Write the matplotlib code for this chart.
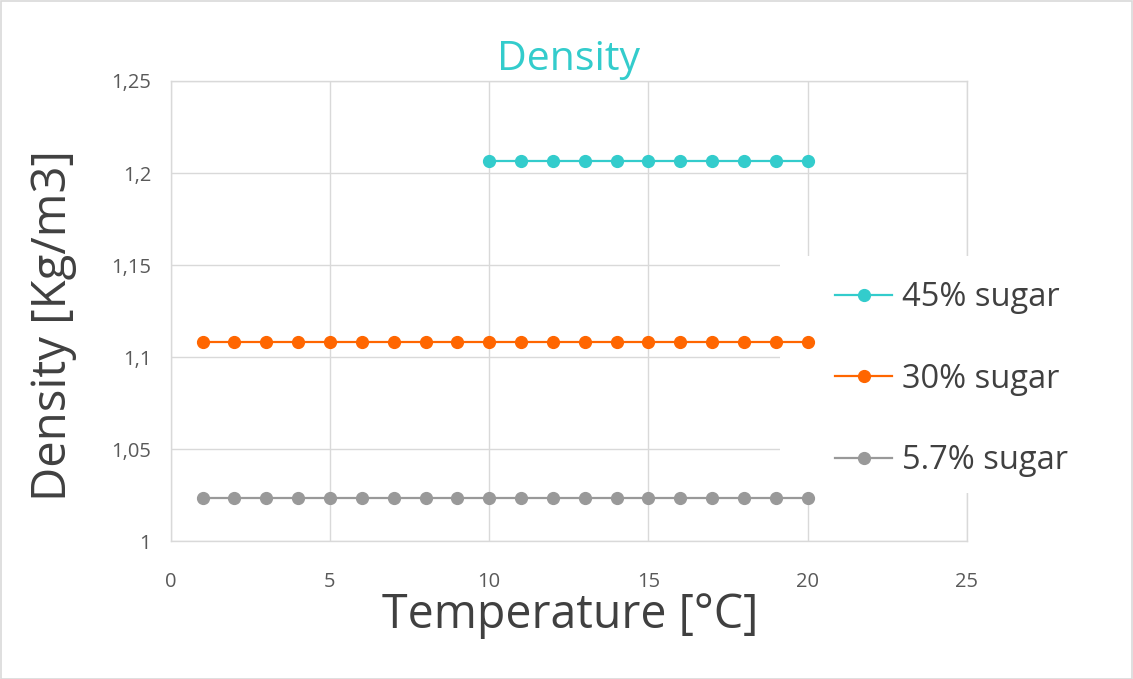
import matplotlib
matplotlib.use("Agg")
import matplotlib.pyplot as plt
from matplotlib.patches import Rectangle

plt.rcParams['font.family'] = ['Open Sans', 'DejaVu Sans']

temp_45 = list(range(10, 21))
dens_45 = [1.2068] * len(temp_45)
temp_30 = list(range(1, 21))
dens_30 = [1.1082] * len(temp_30)
temp_57 = list(range(1, 21))
dens_57 = [1.0234] * len(temp_57)

labels = ["45% sugar", "30% sugar", "5.7% sugar"]
colors = ["#33CCCC", "#FF6600", "#999999"]
xticks = [0, 5, 10, 15, 20, 25]
yticks = [1.0, 1.05, 1.1, 1.15, 1.2, 1.25]
yticklabels = ["1", "1,05", "1,1", "1,15", "1,2", "1,25"]

W, H = 1133, 679
fig = plt.figure(figsize=(W / 100, H / 100), dpi=100)
ax = fig.add_axes([170.7 / W, 1 - 541.3 / H, (967 - 170.7) / W, (541.3 - 81) / H])

ax.set_axisbelow(True)
ax.grid(True, color="#D9D9D9", linewidth=1.0)
for s in ax.spines.values():
    s.set_color("#D9D9D9")
    s.set_linewidth(1.0)
    s.set_zorder(1)

series = [(temp_45, dens_45), (temp_30, dens_30), (temp_57, dens_57)]
for (x, y), lab, c in zip(series, labels, colors):
    ax.plot(x, y, color=c, linewidth=1.6, marker="o", markersize=8.5, label=lab, zorder=3)

ax.set_xlim(0, 25)
ax.set_ylim(1.0, 1.25)
ax.set_xticks(xticks)
ax.set_xticklabels([str(t) for t in xticks])
ax.set_yticks(yticks)
ax.set_yticklabels(yticklabels)
ax.tick_params(length=0, labelsize=14.5, colors="#595959", pad=14)
ax.tick_params(axis='x', pad=22)

ax.set_xlabel("Temperature [°C]", fontsize=33.5, color="#404040")
ax.xaxis.set_label_coords((570 - 170.7) / (967 - 170.7), (541.3 - 615) / (541.3 - 81))
ax.xaxis.label.set_va("center")
ax.set_ylabel("Density [Kg/m3]", fontsize=34, color="#404040")
ax.yaxis.set_label_coords((53 - 170.7) / (967 - 170.7), (541.3 - 326) / (541.3 - 81))
ax.yaxis.label.set_va("center")
ax.set_title("Density", fontsize=29.5, color="#33CCCC", pad=8)

# legend background box (covers gridlines, behind data)
rect = Rectangle((780 / W, 1 - 493 / H), (1100 - 780) / W, (493 - 256) / H,
                 transform=fig.transFigure, facecolor="white", edgecolor="none",
                 zorder=1.5, clip_on=False)
ax.add_patch(rect)

leg = fig.legend(loc="upper left", bbox_to_anchor=(806 / W, 1 - 252 / H),
                 frameon=False, fontsize=23.5, labelspacing=1.48, handlelength=1.75,
                 handletextpad=0.3)
for t in leg.get_texts():
    t.set_color("#404040")

# chart border
fig.patches.append(Rectangle((0.5 / W, 0.5 / H), 1 - 1.5 / W, 1 - 1.5 / H,
                             transform=fig.transFigure, fill=False,
                             edgecolor="#D9D9D9", linewidth=1.2))

fig.savefig("out.png", dpi=100)
